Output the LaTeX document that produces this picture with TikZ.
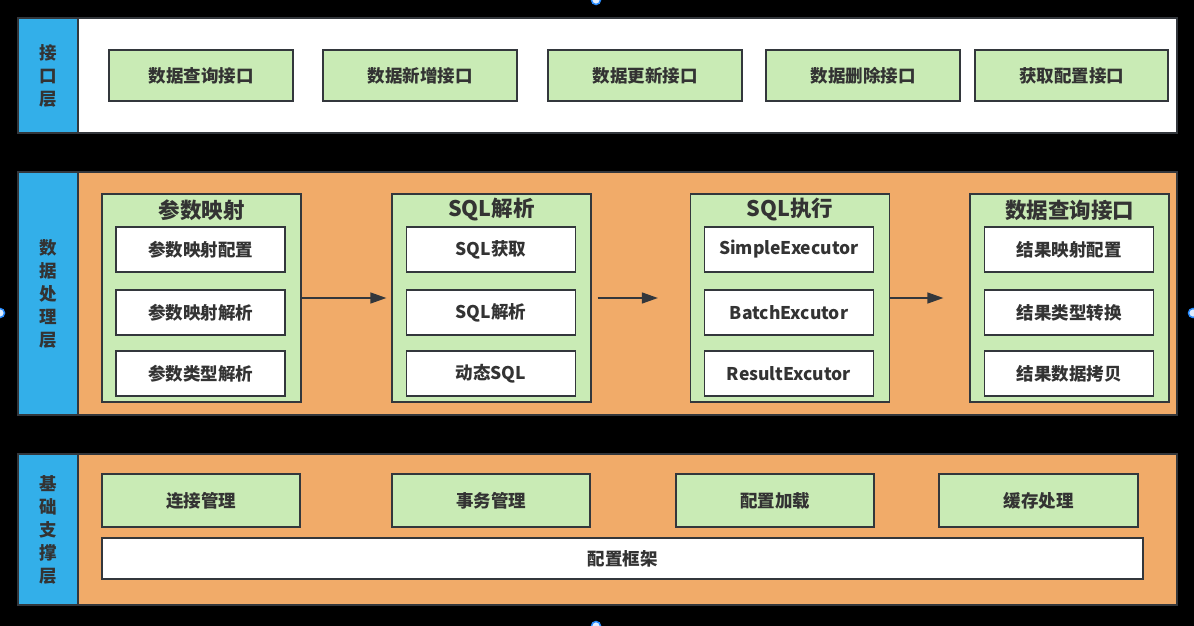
\documentclass[tikz,border=0pt]{standalone}
\usepackage{fontspec}
\newfontfamily\cjk{Noto Sans CJK SC}
\usetikzlibrary{arrows.meta}
\definecolor{layblue}{RGB}{51,175,233}
\definecolor{areaorange}{RGB}{241,171,105}
\definecolor{boxgreen}{RGB}{201,235,181}
\definecolor{txt}{RGB}{51,51,51}
\definecolor{edge}{RGB}{51,55,60}
\definecolor{handleblue}{RGB}{40,140,255}
\begin{document}
\begin{tikzpicture}[x=1pt,y=-1pt,
  every node/.style={draw=edge,line width=1.3pt,inner sep=0pt,text=txt,font=\cjk\bfseries\fontsize{17.5}{21}\selectfont},
  lay/.style={fill=layblue,minimum width=60pt,align=center,font=\cjk\bfseries\fontsize{17.5}{23}\selectfont},
  area/.style={minimum width=1099pt},
  ibox/.style={fill=boxgreen,minimum width=194pt,minimum height=51pt},
  grp/.style={fill=boxgreen,minimum width=199pt,minimum height=208pt},
  gtitle/.style={draw=none,font=\cjk\bfseries\fontsize{21.5}{25}\selectfont},
  sub/.style={fill=white,minimum width=169pt,minimum height=45pt},
  bbox/.style={fill=boxgreen,minimum width=198pt,minimum height=53pt},
  arr/.style={draw=edge,line width=1.5pt,-{Triangle[length=16pt,width=11pt]}},
  handle/.style={draw=handleblue,fill=white!85!handleblue,line width=1.5pt}]
\fill[black] (0,0) rectangle (1194,626);
\useasboundingbox (0,0) rectangle (1194,626);
% interface layer
\node[area,fill=white,minimum height=115pt] (top) at (627.5,75.5) {};
\node[lay,minimum height=115pt] (lay1) at (48,75.5) {接\\口\\层};
\node[ibox,minimum width=184pt] (api1) at (201,75.5) {数据查询接口};
\node[ibox] (api2) at (420,75.5) {数据新增接口};
\node[ibox] (api3) at (645,75.5) {数据更新接口};
\node[ibox] (api4) at (863,75.5) {数据删除接口};
\node[ibox,minimum width=193pt] (api5) at (1071.5,75.5) {获取配置接口};
% data processing layer
\node[area,fill=areaorange,minimum height=243pt] (mid) at (627.5,293.5) {};
\node[lay,minimum height=243pt] (lay2) at (48,293.5) {数\\据\\处\\理\\层};
\node[grp] (g1) at (201.5,298) {};
\node[grp] (g2) at (491.5,298) {};
\node[grp] (g3) at (790,298) {};
\node[grp] (g4) at (1069.5,298) {};
\node[gtitle] (t1) at (201.5,210) {参数映射};
\node[gtitle] (t2) at (491.5,210) {SQL解析};
\node[gtitle] (t3) at (790,210) {SQL执行};
\node[gtitle] (t4) at (1069.5,210) {数据查询接口};
\node[sub] (g1a) at (200.5,249.5) {参数映射配置};
\node[sub] (g1b) at (200.5,312.5) {参数映射解析};
\node[sub] (g1c) at (200.5,373.5) {参数类型解析};
\node[sub] (g2a) at (491,249.5) {SQL获取};
\node[sub] (g2b) at (491,312.5) {SQL解析};
\node[sub] (g2c) at (491,373.5) {动态SQL};
\node[sub] (g3a) at (789,249.5) {SimpleExecutor};
\node[sub] (g3b) at (789,312.5) {BatchExcutor};
\node[sub] (g3c) at (789,373.5) {ResultExcutor};
\node[sub] (g4a) at (1069,249.5) {结果映射配置};
\node[sub] (g4b) at (1069,312.5) {结果类型转换};
\node[sub] (g4c) at (1069,373.5) {结果数据拷贝};
\draw[arr,shorten >=5pt] (g1) -- (g2);
\draw[arr,shorten <=6pt,shorten >=32pt] (g2) -- (g3);
\draw[arr,shorten >=26pt] (g3) -- (g4);
% base support layer
\node[area,fill=areaorange,minimum height=151pt] (bot) at (627.5,529.5) {};
\node[lay,minimum height=151pt] (lay3) at (48,529.5) {基\\础\\支\\撑\\层};
\node[bbox] (b1) at (201,500.5) {连接管理};
\node[bbox] (b2) at (491,500.5) {事务管理};
\node[bbox] (b3) at (775,500.5) {配置加载};
\node[bbox,minimum width=199pt] (b4) at (1038.5,500.5) {缓存处理};
\node[fill=white,minimum width=1041pt,minimum height=41pt] (frame) at (622.5,558.5) {配置框架};
% selection handles
\draw[handle] (596,0) circle (4.5pt);
\draw[handle] (0,313) circle (4.5pt);
\draw[handle] (1193,313) circle (4.5pt);
\draw[handle] (596,626) circle (4.5pt);
\end{tikzpicture}
\end{document}
